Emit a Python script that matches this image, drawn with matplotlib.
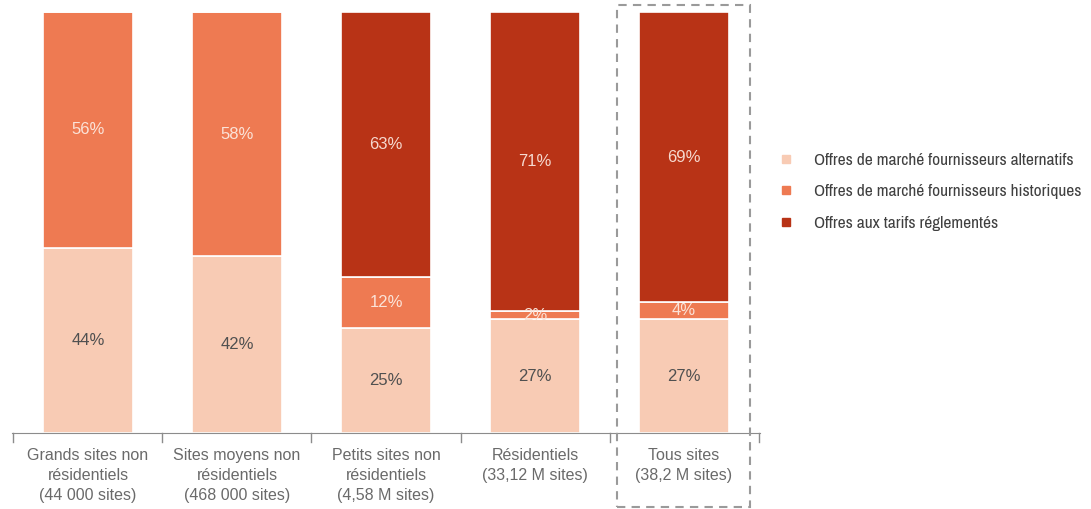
import matplotlib
import matplotlib.pyplot as plt
import numpy as np
from matplotlib import font_manager
from matplotlib.patches import Rectangle
from matplotlib.lines import Line2D

matplotlib.use("Agg")

# legend uses a narrow face if one is installed
narrow = [f.name for f in font_manager.fontManager.ttflist
          if "Narrow" in f.name or "Condensed" in f.name]
plt.rcParams["font.family"] = ["Liberation Sans", "DejaVu Sans"]
legend_family = (narrow[:1] or ["Liberation Sans"]) + ["DejaVu Sans"]

categories = [
    "Grands sites non\nrésidentiels\n(44 000 sites)",
    "Sites moyens non\nrésidentiels\n(468 000 sites)",
    "Petits sites non\nrésidentiels\n(4,58 M sites)",
    "Résidentiels\n(33,12 M sites)",
    "Tous sites\n(38,2 M sites)",
]
alternatifs = [44, 42, 25, 27, 27]
historiques = [56, 58, 12, 2, 4]
reglementes = [0, 0, 63, 71, 69]
series_names = [
    "Offres de marché fournisseurs alternatifs",
    "Offres de marché fournisseurs historiques",
    "Offres aux tarifs réglementés",
]
colors = ["#F8CBB4", "#EE7A52", "#B83316"]
label_colors = ["#505050", "#fbe3d8", "#f6d9cf"]

fig = plt.figure(figsize=(10.91, 5.09), dpi=100)
W, H = 1091, 509
ax = fig.add_axes([12 / W, (H - 433) / H, 748 / W, 421 / H])

x = np.arange(len(categories))
bottom = np.zeros(len(categories))
for vals, col, lc in zip([alternatifs, historiques, reglementes], colors, label_colors):
    vals = np.array(vals, dtype=float)
    ax.bar(x, vals, 0.6, bottom=bottom, color=col, edgecolor="white", linewidth=1.2)
    for xi, b, v in zip(x, bottom, vals):
        if v > 0:
            ax.text(xi, b + v / 2, f"{int(v)}%", ha="center", va="center",
                    fontsize=12, color=lc)
    bottom += vals

ax.set_xlim(-0.51, 4.51)
ax.set_ylim(0, 100)
for s in ["top", "right", "left"]:
    ax.spines[s].set_visible(False)
ax.spines["bottom"].set_color("#8c8c8c")
ax.set_yticks([])
ax.set_xticks(x)
ax.set_xticklabels(categories, fontsize=11.5, color="#6a6a6a", linespacing=1.4)
ax.tick_params(axis="x", length=0, pad=11)
for b in np.arange(-0.5, 5, 1.0):
    ax.plot([b, b], [0, -2.2], color="#8c8c8c", lw=1, clip_on=False)

# dashed box around "Tous sites"
fig.patches.append(Rectangle((617 / W, (H - 507) / H), 133 / W, 502 / H,
                             transform=fig.transFigure, fill=False,
                             edgecolor="#9a9a9a", linestyle=(0, (4, 3)), lw=1.5))

handles = [Line2D([], [], marker="s", linestyle="none", markersize=6,
                  markerfacecolor=c, markeredgecolor=c) for c in colors]
fig.legend(handles, series_names, loc="upper left", bbox_to_anchor=(762 / W, (H - 137) / H),
           frameon=False, prop={"family": legend_family, "size": 12.5},
           labelcolor="#404040", handletextpad=1.1, labelspacing=0.95, handlelength=1.0)

fig.savefig("out.png", dpi=100)
